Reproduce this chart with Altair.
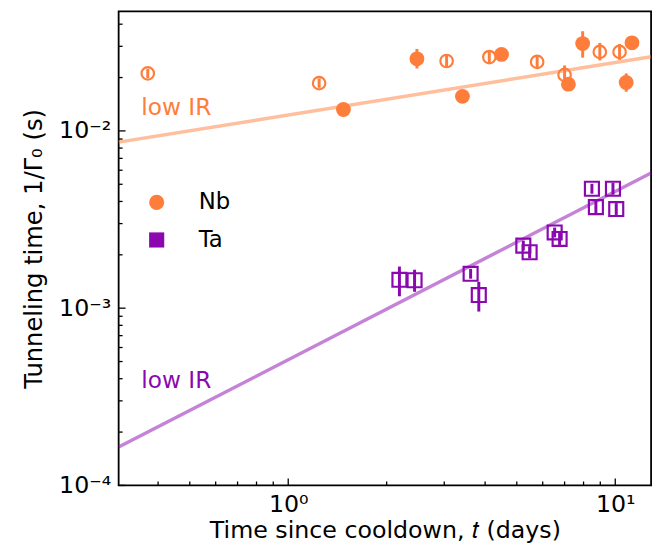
import altair as alt
import pandas as pd

ORANGE = "#FF7D3A"
PURPLE = "#8B08B0"
FONT = "DejaVu Sans"

# ---- Nb, hollow circles ----
nb_open_t = [0.372, 1.243, 3.05, 4.12, 5.77, 7.0, 8.97, 10.31]
nb_open_y = [0.0211, 0.0186, 0.0248, 0.0261, 0.0245, 0.0207, 0.0279, 0.0279]
nb_open_lo = [0.01987, 0.01751, 0.02267, 0.02386, 0.02269, 0.0184, 0.02498, 0.02518]
nb_open_hi = [0.02241, 0.01975, 0.02713, 0.02855, 0.02646, 0.0234, 0.03136, 0.03091]

# ---- Nb, filled circles ----
nb_fill_t = [1.475, 2.475, 3.41, 4.49, 7.19, 7.95, 10.80, 11.25]
nb_fill_y = [0.0132, 0.0255, 0.01566, 0.0270, 0.01835, 0.0311, 0.01875, 0.0314]
nb_fill_lo = [0.0127, 0.0225, 0.0151, 0.0260, 0.0177, 0.0259, 0.01664, 0.0303]
nb_fill_hi = [0.0137, 0.0290, 0.0162, 0.0280, 0.0190, 0.0365, 0.0211, 0.0325]

# ---- Ta, hollow squares ----
ta_t = [2.188, 2.434, 3.612, 3.826, 5.235, 5.472, 6.527, 6.758, 8.485, 9.84, 8.726, 10.07]
ta_y = [1.446e-3, 1.437e-3, 1.563e-3, 1.186e-3, 2.254e-3, 2.068e-3, 2.674e-3, 2.457e-3,
        4.717e-3, 4.717e-3, 3.718e-3, 3.625e-3]
ta_lo = [1.167e-3, 1.237e-3, 1.466e-3, 9.57e-4, 2.114e-3, 1.915e-3, 2.508e-3, 2.275e-3,
         4.425e-3, 4.368e-3, 3.399e-3, 3.356e-3]
ta_hi = [1.717e-3, 1.648e-3, 1.666e-3, 1.407e-3, 2.403e-3, 2.233e-3, 2.850e-3, 2.654e-3,
         5.028e-3, 5.094e-3, 4.067e-3, 3.915e-3]

# ---- "low IR" fit lines (end points) ----
nb_fit_t = [0.303, 12.87]
nb_fit_y = [0.00864, 0.0262]
ta_fit_t = [0.303, 12.87]
ta_fit_y = [1.646e-4, 5.79e-3]

materials = ["Nb", "Ta"]

# ---- ticks ----
x_major = [1, 10]
x_minor = [0.4, 0.5, 0.6, 0.7, 0.8, 0.9, 2, 3, 4, 5, 6, 7, 8, 9]
y_major = [1e-4, 1e-3, 1e-2]
y_minor = [2e-4, 3e-4, 4e-4, 5e-4, 6e-4, 7e-4, 8e-4, 9e-4,
           2e-3, 3e-3, 4e-3, 5e-3, 6e-3, 7e-3, 8e-3, 9e-3,
           2e-2, 3e-2, 4e-2]

W, H = 539, 480

x_scale = alt.Scale(type="log", domain=[0.303, 12.87], nice=False)
y_scale = alt.Scale(type="log", domain=[1e-4, 0.0473], nice=False)

x_axis = alt.Axis(
    values=x_major, ticks=False, domain=False, grid=False,
    labelExpr="datum.value >= 5 ? '10¹' : '10⁰'",
    labelFont=FONT, labelFontSize=24, labelColor="black", labelPadding=7,
    title="Time since cooldown, 𝑡 (days)", titleFont=FONT, titleFontSize=24,
    titleFontWeight="normal", titleColor="black", titlePadding=3,
)
y_axis = alt.Axis(
    values=y_major, ticks=False, domain=False, grid=False,
    labelExpr="datum.value < 5e-4 ? '10⁻⁴' : (datum.value < 5e-3 ? '10⁻³' : '10⁻²')",
    labelFont=FONT, labelFontSize=24, labelColor="black", labelPadding=8,
    title="Tunneling time, 1/Γ₀ (s)", titleFont=FONT, titleFontSize=24.5,
    titleFontWeight="normal", titleColor="black", titlePadding=12,
)

def X(field):
    return alt.X(f"{field}:Q", scale=x_scale, axis=x_axis)

def Y(field):
    return alt.Y(f"{field}:Q", scale=y_scale, axis=y_axis)

nb_open = pd.DataFrame({"t": nb_open_t, "y": nb_open_y, "lo": nb_open_lo, "hi": nb_open_hi})
nb_fill = pd.DataFrame({"t": nb_fill_t, "y": nb_fill_y, "lo": nb_fill_lo, "hi": nb_fill_hi,
                        "material": ["Nb"] * len(nb_fill_t)})
ta = pd.DataFrame({"t": ta_t, "y": ta_y, "lo": ta_lo, "hi": ta_hi})
nb_fit = pd.DataFrame({"t": nb_fit_t, "y": nb_fit_y})
ta_fit = pd.DataFrame({"t": ta_fit_t, "y": ta_fit_y})

lines = []
for df, col in [(nb_fit, ORANGE), (ta_fit, PURPLE)]:
    lines.append(
        alt.Chart(df).mark_line(color=col, strokeWidth=3.5, opacity=0.5)
        .encode(x=X("t"), y=Y("y"))
    )

errs = []
for df, col in [(nb_open, ORANGE), (nb_fill, ORANGE), (ta, PURPLE)]:
    errs.append(
        alt.Chart(df).mark_rule(color=col, strokeWidth=3)
        .encode(x=X("t"), y=Y("lo"), y2="hi")
    )

open_pts = alt.Chart(nb_open).mark_point(
    shape="circle", filled=False, color=ORANGE, strokeWidth=2.2, size=160, opacity=1
).encode(x=X("t"), y=Y("y"))

ta_pts = alt.Chart(ta).mark_point(
    shape="square", filled=False, color=PURPLE, strokeWidth=2.2, size=200, opacity=1
).encode(x=X("t"), y=Y("y"))

leg = alt.Legend(orient="none", legendX=27, legendY=182, title=None,
                 symbolSize=235, symbolStrokeWidth=0, symbolOpacity=1,
                 labelFont=FONT, labelFontSize=23, labelColor="black",
                 labelOffset=31, rowPadding=14, padding=0)

fill_pts = alt.Chart(nb_fill).mark_point(filled=True, size=225, opacity=1).encode(
    x=X("t"), y=Y("y"),
    color=alt.Color("material:N",
                    scale=alt.Scale(domain=materials, range=[ORANGE, PURPLE]),
                    legend=leg),
    shape=alt.Shape("material:N",
                    scale=alt.Scale(domain=materials, range=["circle", "square"]),
                    legend=leg),
)

# inward ticks drawn through the shared scales
def xticks(vals, length):
    return alt.Chart(pd.DataFrame({"v": vals})).mark_rule(color="black", strokeWidth=1.3).encode(
        x=X("v"), y=alt.value(H), y2=alt.value(H - length))

def yticks(vals, length):
    return alt.Chart(pd.DataFrame({"v": vals})).mark_rule(color="black", strokeWidth=1.3).encode(
        y=Y("v"), x=alt.value(0), x2=alt.value(length))

ticks = [xticks(x_major, 7), xticks(x_minor, 4), yticks(y_major, 7), yticks(y_minor, 4)]

label_nb = alt.Chart(pd.DataFrame({"s": ["low IR"]})).mark_text(
    align="left", baseline="middle", font=FONT, fontSize=23.5, color=ORANGE
).encode(text="s:N", x=alt.value(23), y=alt.value(98))
label_ta = alt.Chart(pd.DataFrame({"s": ["low IR"]})).mark_text(
    align="left", baseline="middle", font=FONT, fontSize=23.5, color=PURPLE
).encode(text="s:N", x=alt.value(23), y=alt.value(374))

chart = alt.layer(
    *lines, *errs, open_pts, ta_pts, fill_pts, *ticks, label_nb, label_ta
).properties(
    width=W, height=H,
    autosize=alt.AutoSizeParams(type="none"),
    padding={"left": 112, "top": 0, "right": 7, "bottom": 59},
).configure_view(
    stroke="black", strokeWidth=1.8
)

chart.save("out.html", embed_options={"renderer": "svg", "actions": False})
